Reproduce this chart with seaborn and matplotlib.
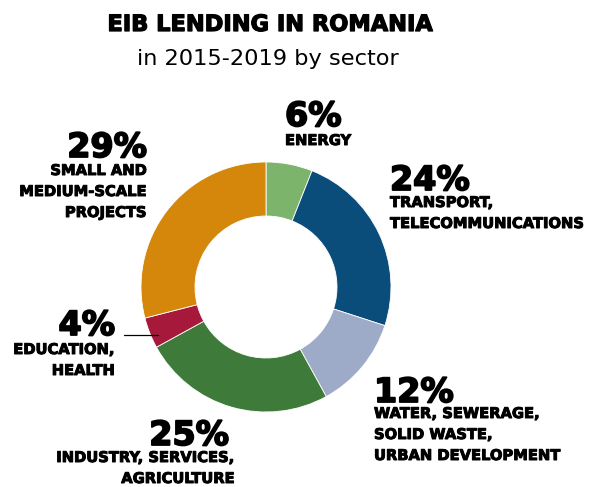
import matplotlib
matplotlib.use("Agg")
import matplotlib.pyplot as plt
import matplotlib.patheffects as pe
import seaborn as sns

sectors = ["ENERGY", "TRANSPORT,\nTELECOMMUNICATIONS", "WATER, SEWERAGE,\nSOLID WASTE,\nURBAN DEVELOPMENT",
           "INDUSTRY, SERVICES,\nAGRICULTURE", "EDUCATION,\nHEALTH", "SMALL AND\nMEDIUM-SCALE\nPROJECTS"]
shares = [6, 24, 12, 25, 4, 29]
colors = ["#7db46c", "#0b4d7a", "#9eabc8", "#3e7a3a", "#a6193a", "#d4870b"]

sns.set_theme(style="white")
plt.rcParams["font.family"] = ["DejaVu Sans"]

W, H = 592, 487
fig = plt.figure(figsize=(W / 100, H / 100), dpi=100)
ax = fig.add_axes([0, 0, 1, 1])

cx, cy, R = 266, H - 287, 125
ax.pie(shares, colors=colors, startangle=90, counterclock=False, center=(cx, cy), radius=R,
       wedgeprops=dict(width=54, edgecolor="white", linewidth=0.6), frame=True)
ax.set_xlim(0, W)
ax.set_ylim(0, H)
ax.set_aspect("equal")
ax.axis("off")

def Y(y):
    return H - y

heavy = [pe.withStroke(linewidth=0.9, foreground="black")]

ax.text(271, Y(31), "EIB LENDING IN ROMANIA", ha="center", va="baseline",
        fontsize=16.2, fontweight="bold", color="black", path_effects=heavy)
ax.text(268, Y(65), "in 2015-2019 by sector", ha="center", va="baseline",
        fontsize=16.2, color="black")

LINE = 20  # pixel distance between label lines
# (pct_x, pct_baseline, label_x, label_first_baseline, ha)
pos = [
    (285, 126, 285, 145, "left"),
    (390, 190, 390, 208, "left"),
    (374, 402, 374, 420, "left"),
    (229, 445, 235, 463, "right"),
    (115, 335, 115, 355, "right"),
    (147, 157, 147, 177, "right"),
]
for (px, py, lx, ly, ha), s, lab in zip(pos, shares, sectors):
    ax.text(px, Y(py), f"{s}%", ha=ha, va="baseline", fontsize=24, fontweight="bold", color="black",
            path_effects=[pe.withStroke(linewidth=1.3, foreground="black")])
    last = ly + LINE * lab.count("\n")
    ax.text(lx, Y(last), lab, ha=ha, va="baseline", fontsize=10.6, fontweight="bold", color="black",
            linespacing=1.5, multialignment=ha, path_effects=[pe.withStroke(linewidth=0.7, foreground="black")])

ax.plot([124, 158], [Y(335), Y(335)], color="black", linewidth=0.9)

fig.savefig("out.png", dpi=100)
